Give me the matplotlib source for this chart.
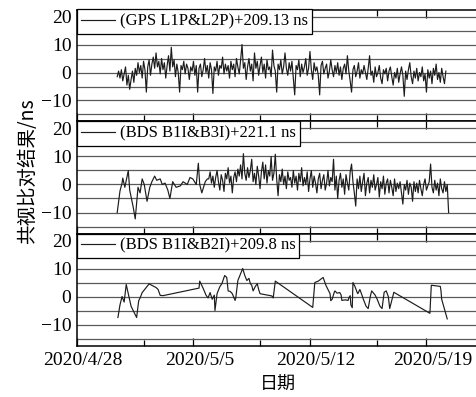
import numpy as np
import pandas as pd
import matplotlib
matplotlib.use("Agg")
import matplotlib.pyplot as plt
from matplotlib.transforms import ScaledTranslation

plt.rcParams['font.family'] = ['Liberation Serif', 'Noto Sans CJK SC']
plt.rcParams['axes.unicode_minus'] = True

BASE = pd.Timestamp("2020-04-28 00:00")

# GPS L1P&L2P common-view offsets (ns), 2-hour epochs from hour 58 after BASE
gps_start_h = 58
gps_step_h = 2
gps_vals = [
    -1.5, 0.5, -2.0, 1.0, -3.0, -0.5, 2.0, -4.5, -1.0, -6.0, -2.5, 0.5, -3.5, 1.5, -1.0, 3.5, 0.0, 2.5, -2.0, 4.0,
    1.0, -7.0, 2.0, 4.5, -1.0, 3.0, 5.5, 1.5, 7.0, 2.0, 4.0, -0.5, 5.0, 1.0, 3.5, -2.0, 2.5, 6.0, 0.5, 9.0,
    2.0, 4.5, -1.5, 3.0, 0.0, -7.0, 2.5, 1.0, 4.0, -0.5, 3.0, 1.5, -2.5, 2.0, 0.5, 4.0, -1.0, 2.5, -7.0, 1.5,
    3.0, -1.5, 1.0, 5.0, 0.0, 2.5, -2.0, 3.5, 1.0, -7.5, 2.0, 0.5, 4.0, -1.0, 2.5, 1.5, 5.5, -0.5, 3.0, 0.5,
    2.5, -2.0, 4.0, 1.0, 3.0, -1.5, 5.0, 2.0, -0.5, 4.5, 10.0, 1.5, 3.5, -2.5, 2.0, 5.0, 0.5, 3.0, -3.0, 7.0,
    1.5, 4.0, -1.0, 2.5, 5.5, 0.0, 3.0, -2.0, 4.5, 1.0, 2.0, -1.5, 8.0, 2.5, 0.5, -7.0, 3.0, 1.0, 4.5, -0.5,
    2.0, 7.0, 1.5, -1.0, 3.5, 0.5, 4.0, -2.0, -8.0, 2.5, 1.0, 4.5, -1.5, 3.0, 0.0, 2.0, 5.0, -1.0, 1.5, 7.5,
    1.0, -2.5, 3.5, 0.5, 2.0, -1.0, -8.0, 2.5, 4.0, -0.5, 1.5, 3.0, -2.0, 0.5, 4.5, 1.0, -1.5, 2.5, 0.0, 3.5,
    -1.0, 2.0, -2.5, 1.5, 3.0, -0.5, 6.0, 0.5, -3.0, -7.0, 1.0, 2.5, -1.5, 0.5, 3.5, -2.0, 1.0, -0.5, 2.5, 0.0,
    -2.5, 1.5, 6.0, -1.0, 0.5, -3.5, 2.0, -1.5, 0.0, 2.5, -2.0, -4.0, 1.0, -0.5, 1.5, -3.0, 0.5, 2.0, -1.5, -4.5,
    0.0, -2.0, 1.5, -3.5, -0.5, 2.0, -1.0, -8.5, 0.5, -2.5, 1.0, 3.5, -1.5, -4.0, 0.5, -2.0, 1.5, -3.0, 0.0, -1.5,
    2.0, -3.0, -0.5, -7.0, 1.0, -2.0, 0.5, -4.0, 1.5, -1.0, 3.0, -2.5, 0.0, -3.5, 1.5, -1.5, -4.0, 0.5,
]

# BDS B1I&B3I: sparse early epochs (hours after BASE), then 2-hour epochs from hour 190
b3i_sparse_h = [58, 61, 62, 65, 66, 69, 74, 76, 81, 84, 88, 91, 94, 97, 101, 105, 108, 112, 115,
                120, 123, 127, 131, 134, 138, 143, 149, 153, 159, 163, 167, 172, 175, 177, 180, 185, 188]
b3i_sparse_vals = [-10.0, -4.0, -2.3, 0.5, 2.3, -1.0, 5.0, -2.0, -8.0, -12.3, -1.0, -3.0, 2.0, 0.0, -6.0,
                   -1.0, 1.0, 3.0, 1.5, 2.0, 0.0, 0.5, -2.0, -5.0, 1.0, -1.0, -0.5, 1.0, 0.0, 2.5, 2.0,
                   0.0, 7.6, 0.0, -3.0, 1.0, 2.0]
b3i_dense_start_h = 190
b3i_step_h = 2
b3i_dense_vals = [
    2.0, 4.5, 0.5, 3.0, -1.0, 2.5, 5.0, 1.0, -2.0, 3.5,
    1.5, -2.5, 4.0, 2.0, 6.0, 0.5, 3.0, -3.0, 2.5, 4.5,
    1.0, 5.5, 3.0, 7.0, 2.0, 11.0, 4.0, 1.5, 6.0, 2.5,
    5.0, 9.0, 1.0, 4.0, 0.0, 6.5, 3.0, -1.5, 4.5, 8.0,
    2.0, 7.0, 0.5, 5.0, 3.0, 10.0, 1.5, 4.0, 10.8, 2.0,
    -4.0, 3.5, 1.0, 5.5, 0.0, 3.0, -1.5, 4.5, 1.5, 2.5,
    -1.0, 5.0, 0.5, 3.0, -2.0, 4.0, 1.0, 6.0, -0.5, 2.5,
    0.0, 4.5, -2.5, 2.0, 5.0, -1.0, 3.0, 0.5, -3.0, 2.0,
    4.0, -1.5, 1.5, 3.5, -2.0, 0.5, 5.0, -0.5, 2.5, 1.0,
    9.0, -2.0, 3.0, -5.0, 1.5, 4.0, -1.0, 2.0, -3.5, 3.5,
    0.5, -2.0, 4.5, 7.3, 1.0, -3.0, -7.7, 2.0, -1.5, 3.0,
    -2.5, 1.0, 4.0, -4.0, 0.5, 2.5, -3.0, 1.5, -1.0, 3.5,
    -2.0, 0.0, 2.5, -4.5, 1.0, -1.5, 3.0, -3.5, 0.5, 2.0,
    -3.0, 1.5, -1.0, -4.0, 2.0, -2.5, 0.5, -1.5, 1.0, -3.0,
    -7.0, 0.0, -2.0, 1.5, -3.5, 0.5, -1.0, -6.0, 1.0, -2.5,
    0.5, -3.0, 1.5, -1.5, -4.0, 0.0, 2.0, -2.0, -0.5, 1.0,
    7.3, -1.0, -3.0, 1.5, -2.0, 0.5, -4.0, 2.0, -1.5, -3.0,
    1.0, -2.5, 0.0, -10.0,
]

# BDS B1I&B2I: epochs (hours after BASE) and offsets (ns)
b2i_h = [59, 62, 65, 68, 71, 78, 86, 89, 91, 94, 104, 114, 117, 120, 124, 176, 177, 182, 186, 189,
         192, 195, 198, 199, 202, 206, 209, 213, 216, 218, 221, 224, 228, 229, 232, 239, 242, 245, 248, 250,
         252, 254, 257, 260, 262, 264, 281, 283, 286, 340, 343, 348, 355, 359, 365, 366, 368, 371, 372, 375,
         379, 381, 382, 387, 391, 392, 394, 395, 397, 398, 401, 404, 405, 408, 411, 413, 417, 420, 423, 425,
         430, 433, 437, 440, 443, 446, 449, 451, 457, 509, 511, 512, 524, 525, 526, 534]
b2i_vals = [-7.5, -3.0, 0.0, -2.0, 4.3, -3.5, -7.5, -1.5, -0.5, 1.4,
            4.5, 3.2, 2.5, 0.4, 0.3, 3.0, 5.5, 2.9, 0.5, -0.5,
            1.4, -1.0, 0.5, -5.0, 1.0, 3.5, 4.6, 7.5, 6.8, 2.0,
            1.8, 1.0, -1.4, -0.5, 5.7, 10.0, 7.5, 5.7, 6.5, 4.6,
            4.0, 2.0, 3.5, 4.6, 2.5, 1.0, 0.2, -0.5, 5.5, -3.9,
            5.0, 5.5, 6.8, 4.0, 1.0, -1.5, -1.0, 1.5, 2.0, 1.2,
            1.4, 0.5, -1.4, -1.2, -1.4, -0.5, 0.3, -3.0, -4.0, 5.0,
            3.5, 1.5, 1.0, 2.5, 0.5, -1.0, -3.5, -4.3, 0.0, 2.0,
            0.5, -1.0, -3.5, -4.3, 1.5, 2.0, 0.0, -4.3, 1.5, -6.0,
            4.0, 4.0, 3.6, 2.0, -1.0, -8.0]

series_labels = ["(GPS L1P&L2P)+209.13 ns", "(BDS B1I&B3I)+221.1 ns", "(BDS B1I&B2I)+209.8 ns"]
xtick_dates = ["2020-04-28", "2020-05-05", "2020-05-12", "2020-05-19"]
xtick_labels = ["2020/4/28", "2020/5/5", "2020/5/12", "2020/5/19"]
xminor_dates = ["2020-05-02", "2020-05-09", "2020-05-16", "2020-05-23"]
ytick_major = [-10, 0, 10, 20]
ytick_minor = [-15, -5, 5, 15]
ylabel_text = "共视比对结果/ns"
xlabel_text = "日期"


def hours_to_time(hours):
    return BASE + pd.to_timedelta(np.asarray(hours, dtype=float), unit="h")


gps_t = hours_to_time(gps_start_h + gps_step_h * np.arange(len(gps_vals)))
b3i_t = hours_to_time(list(b3i_sparse_h) +
                      list(b3i_dense_start_h + b3i_step_h * np.arange(len(b3i_dense_vals))))
b3i_v = list(b3i_sparse_vals) + list(b3i_dense_vals)
b2i_t = hours_to_time(b2i_h)

data = [(gps_t, gps_vals), (b3i_t, b3i_v), (b2i_t, b2i_vals)]

W_PX, H_PX = 476, 397
fig = plt.figure(figsize=(W_PX / 100, H_PX / 100), dpi=100, facecolor="white")

left_px = 77
px_per_day = 16.64
panel_h_px = 112
tops_px = [9.5, 121.5, 233.5]
span_days = 27
ax_w = span_days * px_per_day / W_PX

axes = []
for i, (top, (t, v), lab) in enumerate(zip(tops_px, data, series_labels)):
    ax = fig.add_axes([left_px / W_PX, 1 - (top + panel_h_px) / H_PX, ax_w, panel_h_px / H_PX])
    ax.set_facecolor("white")
    line, = ax.plot(t, v, color="#1c1c1c", lw=0.85, zorder=3)
    ax.set_xlim(BASE, BASE + pd.Timedelta(days=span_days))
    ax.set_ylim(-17.5, 22.5)
    ax.set_yticks(ytick_major)
    ax.set_yticks(ytick_minor, minor=True)
    ax.grid(True, which="both", axis="y", color="#5a5a5a", lw=0.9, zorder=1)
    ax.set_xticks(pd.to_datetime(xtick_dates))
    ax.set_xticks(pd.to_datetime(xminor_dates), minor=True)
    ax.tick_params(axis="x", which="major", direction="in", length=6, width=0.9,
                   top=True, bottom=True, pad=5, labelsize=14)
    ax.tick_params(axis="x", which="minor", direction="in", length=4, width=0.9,
                   top=True, bottom=True)
    ax.tick_params(axis="y", which="both", direction="in", length=0, pad=4, labelsize=14)
    for lbl in ax.get_yticklabels():
        lbl.set_fontfamily('Liberation Serif')
    if i < 2:
        ax.set_xticklabels([])
    else:
        ax.set_xticklabels(xtick_labels, fontfamily='Liberation Serif', fontsize=14)
        shift = ScaledTranslation(6 / 100, 0, fig.dpi_scale_trans)
        for lbl in ax.get_xticklabels():
            lbl.set_transform(lbl.get_transform() + shift)
    for sp in ax.spines.values():
        sp.set_linewidth(1.1)
        sp.set_color("black")
    leg = ax.legend([line], [lab], loc="upper left", borderaxespad=0, fancybox=False,
                    edgecolor="black", framealpha=1, handlelength=2.0, handletextpad=0.3,
                    borderpad=0.25, prop=dict(family='Liberation Serif', size=12))
    leg.get_frame().set_linewidth(0.9)
    leg.set_zorder(5)
    axes.append(ax)

fig.text(28 / W_PX, 1 - 171 / H_PX, ylabel_text, rotation=90, ha="center", va="center",
         family=['Noto Sans CJK SC'], fontsize=14)
fig.text(278 / W_PX, 1 - 385 / H_PX, xlabel_text, ha="center", va="center",
         family=['Noto Sans CJK SC'], fontsize=13)

fig.savefig("out.png", dpi=100, facecolor=fig.get_facecolor())
